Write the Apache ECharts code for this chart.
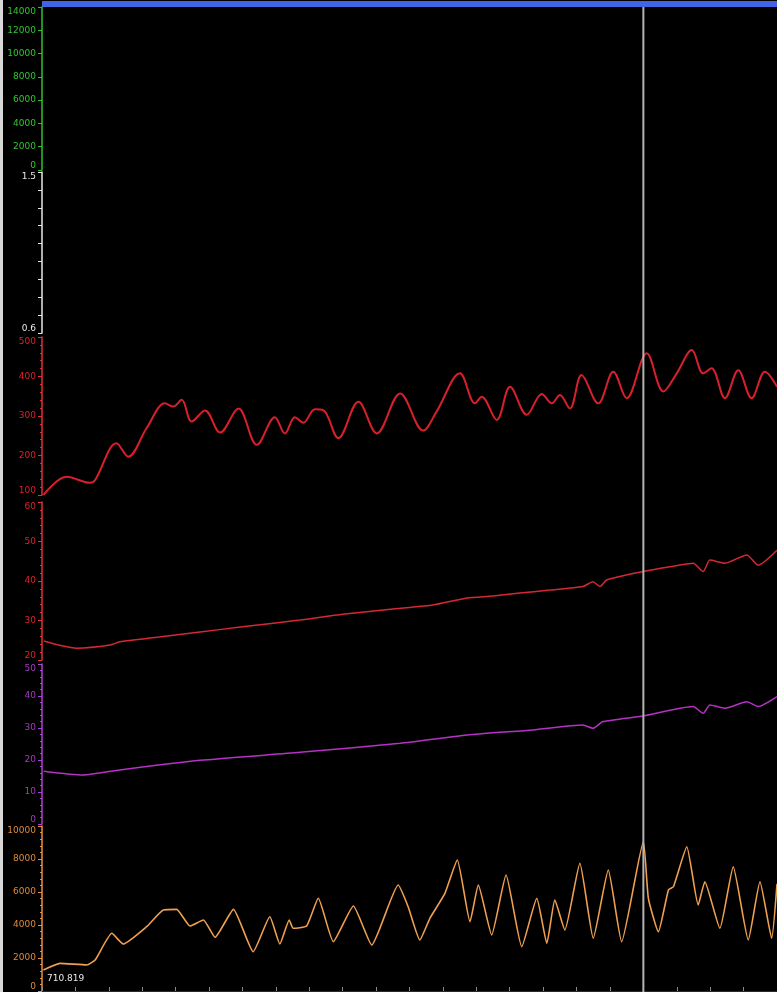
<!DOCTYPE html>
<html>
<head>
<meta charset="utf-8">
<script src="https://cdn.jsdelivr.net/npm/echarts@6/dist/echarts.min.js"></script>
<style>
    html, body { margin: 0; padding: 0; background: #000; }
    #main { width: 777px; height: 992px; }
</style>
</head>
<body>
<div id="main"></div>
<script>
// 数据
var cursorTime = 180;
var readout = '710.819';

// 红色 (100-500)
var timeA = [0.4, 7.4, 14.4, 15.9, 22.3, 25.8, 31.3, 36.8, 39.3, 41.8, 44.8, 48.8, 53.3, 58.8, 64.3, 69.7, 72.7, 75.7, 78.2, 81.7, 84.2, 88.7, 94.7, 100.2, 107.2, 114.1, 118.1, 125.1, 129.6, 131.6, 136.1, 140.1, 145.1, 149.6, 152.6, 155.0, 158.0, 161.5, 166.5, 171.0, 175.0, 181.0, 186.0, 190.0, 194.5, 197.9, 200.4, 204.4, 208.4, 212.4, 216.4, 220];
var valA = [100, 146, 131, 138, 231, 197, 269, 332, 324, 341, 286, 314, 258, 319, 227, 297, 256, 297, 283, 317, 315, 244, 336, 256, 357, 263, 311, 408, 332, 349, 290, 374, 303, 356, 332, 353, 319, 404, 332, 412, 345, 459, 362, 408, 467, 408, 421, 345, 416, 345, 412, 374];

// 红色 (20-60)
var timeB = [0.5, 5, 10.4, 20.4, 23.3, 35, 47.3, 60, 77.2, 90, 107.2, 117, 127.2, 135, 142.2, 152.1, 161.9, 164.9, 167.0, 169.1, 179.9, 188, 194.9, 197.9, 199.9, 204.4, 211.0, 214.3, 220];
var valB = [24.8, 23.8, 23.0, 23.8, 24.6, 25.8, 27.1, 28.4, 30.1, 31.6, 33.1, 33.9, 35.7, 36.2, 36.9, 37.7, 38.6, 39.8, 38.6, 40.3, 42.4, 43.6, 44.5, 42.4, 45.3, 44.5, 46.6, 44.0, 47.8];

// 紫色 (0-50)
var timeC = [0.5, 12.3, 23.3, 47.3, 77.2, 107.2, 127.2, 147, 161.9, 164.9, 167.9, 179.9, 194.9, 197.9, 199.9, 204.4, 211.0, 214.3, 220];
var valC = [16.5, 15.3, 16.9, 19.9, 22.4, 25.2, 27.8, 29.4, 30.9, 29.9, 32.0, 33.75, 36.7, 34.6, 37.2, 36.2, 38.2, 36.7, 39.8];

// 橙色 (0-10000)
var timeD = [0.4, 5.4, 13.4, 15.9, 20.9, 24.3, 31.3, 36.3, 40.3, 44.3, 48.3, 51.8, 57.3, 63.2, 68.2, 71.2, 74.0, 75.2, 79.2, 82.7, 87.2, 93.2, 98.7, 106.6, 109.6, 113.1, 116.1, 120.6, 124.3, 128.1, 130.6, 134.6, 138.9, 143.6, 148.1, 151.1, 153.5, 156.5, 161.0, 165.0, 169.5, 173.5, 180.0, 181.5, 184.5, 187.5, 189.0, 193.0, 196.4, 198.4, 202.9, 206.9, 211.4, 214.9, 218.4, 220];
var valD = [1273, 1677, 1576, 1879, 3497, 2848, 3897, 4909, 4950, 3939, 4303, 3254, 4950, 2382, 4503, 2848, 4303, 3800, 3939, 5617, 2988, 5151, 2788, 6424, 5109, 3091, 4405, 5920, 7939, 4200, 6424, 3394, 7030, 2685, 5617, 2891, 5515, 3697, 7739, 3194, 7333, 2988, 9048, 5617, 3594, 6121, 6320, 8745, 5212, 6624, 3800, 7533, 3091, 6624, 3194, 6500];

function zip(t, v) {
    var out = [];
    for (var i = 0; i < t.length; i++) out.push([t[i], v[i]]);
    return out;
}

(function() {
    var myechart = echarts.init(document.getElementById('main'));
    var font = 'DejaVu Sans';

    var grids = [
        { top: 7, height: 163 },
        { top: 172, height: 161 },
        { top: 337, height: 158 },
        { top: 502, height: 158 },
        { top: 664, height: 160 },
        { top: 826, height: 165 }
    ];
    grids.forEach(function(g) { g.left = 42; g.right = 0; g.containLabel = false; });

    // 不要千位分隔符
    var plain = function(v) { return String(v); };

    // 每个面板的y轴
    function yAx(idx, min, max, interval, lineColor, labelColor, minor, fmt) {
        return {
            type: 'value', gridIndex: idx, min: min, max: max, interval: interval,
            splitLine: { show: false },
            axisLine: { show: true, lineStyle: { color: lineColor, width: 1.5 } },
            axisTick: { show: true, length: 4, lineStyle: { color: lineColor } },
            minorTick: { show: minor, splitNumber: 5, length: 2, lineStyle: { color: lineColor } },
            axisLabel: {
                color: labelColor, fontSize: 9, fontFamily: font, margin: 6,
                verticalAlignMaxLabel: 'top', verticalAlignMinLabel: 'bottom',
                formatter: fmt || plain
            }
        };
    }
    function xAx(idx, showTicks) {
        return {
            type: 'value', gridIndex: idx, min: 0, max: 220, interval: 10,
            splitLine: { show: false },
            axisLabel: { show: false },
            axisLine: { show: showTicks, lineStyle: { color: '#2a2a2a' } },
            axisTick: { show: showTicks, inside: true, length: 4, lineStyle: { color: '#8a8a8a' } }
        };
    }

    var option = {
        backgroundColor: '#000',
        animation: false,
        grid: grids,
        xAxis: [xAx(0, false), xAx(1, false), xAx(2, false), xAx(3, false), xAx(4, false), xAx(5, true)],
        yAxis: [
            yAx(0, 0, 14000, 2000, '#30c030', '#2fc82f', false),
            yAx(1, 0.6, 1.5, 0.1, '#e8e8e8', '#e8e8e8', false, function(v) {
                return (Math.abs(v - 1.5) < 1e-6 || Math.abs(v - 0.6) < 1e-6) ? v.toFixed(1) : '';
            }),
            yAx(2, 100, 500, 100, '#e0303a', '#e0202c', true),
            yAx(3, 20, 60, 10, '#e0303a', '#e0202c', true),
            yAx(4, 0, 50, 10, '#b040d0', '#a838c8', true),
            yAx(5, 0, 10000, 2000, '#e89040', '#e08a38', true)
        ],
        series: [
            {
                type: 'line', xAxisIndex: 2, yAxisIndex: 2, data: zip(timeA, valA),
                smooth: 0.35, showSymbol: false,
                lineStyle: { color: '#d8202c', width: 2 }
            },
            {
                type: 'line', xAxisIndex: 3, yAxisIndex: 3, data: zip(timeB, valB),
                smooth: 0.2, showSymbol: false,
                lineStyle: { color: '#d42834', width: 1.5 }
            },
            {
                type: 'line', xAxisIndex: 4, yAxisIndex: 4, data: zip(timeC, valC),
                smooth: 0.2, showSymbol: false,
                lineStyle: { color: '#b432c4', width: 1.5 }
            },
            {
                type: 'line', xAxisIndex: 5, yAxisIndex: 5, data: zip(timeD, valD),
                smooth: 0.15, showSymbol: false,
                lineStyle: { color: '#f0a050', width: 1.6 }
            }
        ]
    };
    myechart.setOption(option);

    // 光标竖线
    var cx = myechart.convertToPixel({ xAxisIndex: 0 }, cursorTime);
    myechart.setOption({
        graphic: [
            { type: 'rect', left: 0, top: 0, shape: { width: 3, height: 992 }, style: { fill: '#d8d8d8' }, silent: true },
            { type: 'rect', shape: { x: 42, y: 1, width: 735, height: 6 }, style: { fill: '#3f64e6' }, silent: true },
            { type: 'line', shape: { x1: cx, y1: 7, x2: cx, y2: 992 }, style: { stroke: '#b4b4b4', lineWidth: 2 }, silent: true, z: 10 },
            { type: 'text', left: 47, top: 974, style: { text: readout, fill: '#e8e8e8', fontSize: 9, fontFamily: font }, silent: true }
        ]
    });
})();
</script>
</body>
</html>
